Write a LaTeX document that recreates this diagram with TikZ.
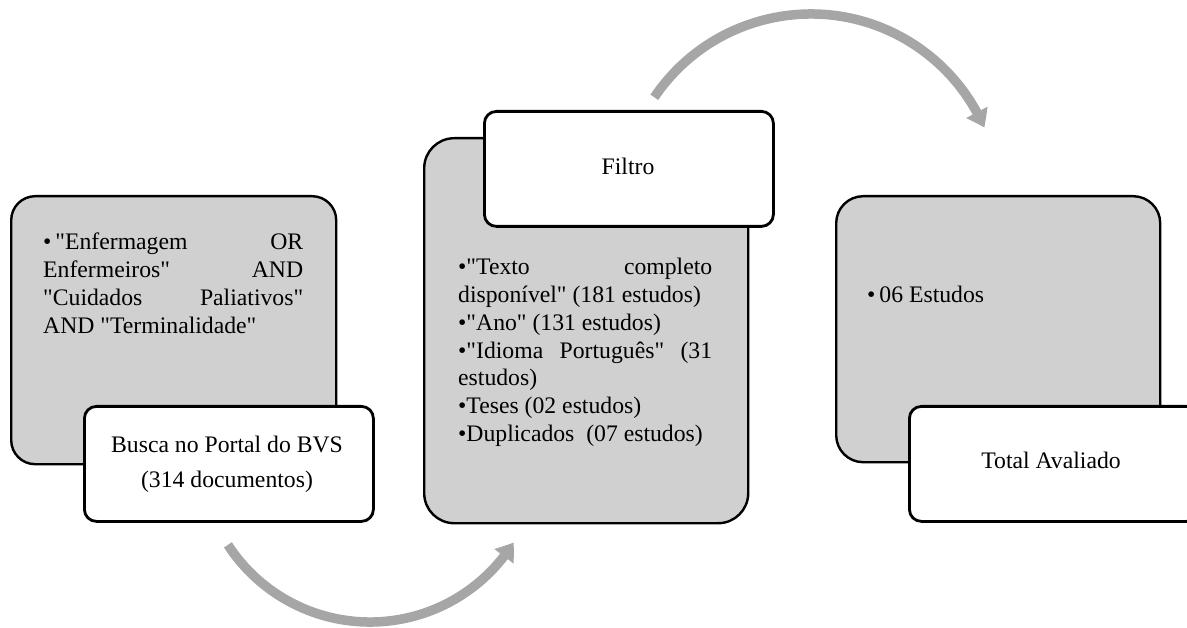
\documentclass[tikz,border=0pt]{standalone}
\usepackage{fontspec}
\newfontfamily\tnr{Liberation Serif}
\usetikzlibrary{arrows.meta,bending}
\definecolor{boxgray}{RGB}{208,208,208}
\definecolor{arrgray}{RGB}{166,166,166}
\begin{document}
\begin{tikzpicture}[
  graybox/.style={draw=black, fill=boxgray, line width=2.4pt, rounded corners=#1,
    inner sep=0pt, anchor=north west},
  whitebox/.style={draw=black, fill=white, line width=2.8pt, rounded corners=12pt,
    inner sep=0pt, anchor=north west, minimum width=289pt, minimum height=115pt},
  txt/.style={font=\tnr\fontsize{23.7pt}{27.7pt}\selectfont, inner sep=0pt, anchor=base west},
  ctxt/.style={font=\tnr\fontsize{23.7pt}{35pt}\selectfont, inner sep=0pt, anchor=base},
  arr/.style={draw=arrgray, line width=9.5pt, -{Triangle[width=23pt,length=17pt,bend]}}
]
\useasboundingbox (0,0) rectangle (1187pt,-628pt);

% Box 1
\node[graybox=24pt, minimum width=325pt, minimum height=268pt] (g1) at (10pt,-195pt) {};
\node[txt] (t1) at (43pt,-250pt)
  {\vtop{\hbox{\makebox[260pt][s]{•\hspace{4pt}"Enfermagem OR}}
   \hbox{\makebox[260pt][s]{Enfermeiros" AND}}
   \hbox{\makebox[260pt][s]{"Cuidados Paliativos"}}
   \hbox{AND "Terminalidade"}}};
\node[whitebox] (w1) at (83pt,-405pt) {};
\node[ctxt] (b1) at (227pt,-453pt)
  {\vtop{\halign{\hfil#\hfil\cr Busca no Portal do BVS\cr (314 documentos)\cr}}};

% Box 2
\node[graybox=30pt, minimum width=324pt, minimum height=385pt] (g2) at (423pt,-137pt) {};
\node[txt] (t2) at (458pt,-275pt)
  {\vtop{\hbox{\makebox[254pt][s]{•"Texto completo}}
   \hbox{disponível" (181 estudos)}
   \hbox{•"Ano" (131 estudos)}
   \hbox{\makebox[254pt][s]{•"Idioma Português" (31}}
   \hbox{estudos)}
   \hbox{•Teses (02 estudos)}
   \hbox{•Duplicados\ \ (07 estudos)}}};
\node[whitebox] (w2) at (483pt,-110pt) {};
\node[ctxt] (b2) at (628pt,-175pt) {Filtro};

% Box 3
\node[graybox=27pt, minimum width=324pt, minimum height=266pt] (g3) at (835pt,-195pt) {};
\node[txt] (t3) at (867pt,-303pt) {•\hspace{4pt}06 Estudos};
\node[whitebox] (w3) at (908pt,-405pt) {};
\node[ctxt] (b3) at (1051pt,-468pt) {Total Avaliado};

% Arrows
\coordinate (a1s) at (227.9pt,-544.9pt);
\coordinate (a2s) at (654.3pt,-97.3pt);
\draw[arr] (a1s) arc[start angle=213, end angle=328, radius=169.4pt];
\draw[arr] (a2s) arc[start angle=146, end angle=23.5, radius=189pt];
\end{tikzpicture}
\end{document}
